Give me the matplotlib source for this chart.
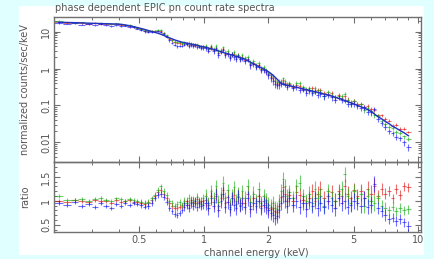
import numpy as np
import matplotlib.pyplot as plt
from matplotlib.patches import Rectangle
from matplotlib.ticker import FixedLocator, NullFormatter

# bin centres (keV), shared by the three phase spectra
energy = [0.21, 0.23, 0.25, 0.27, 0.29, 0.31, 0.33, 0.35, 0.37, 0.39, 0.41, 0.43, 0.45, 0.47, 0.49,
          0.51, 0.53, 0.55, 0.57, 0.59, 0.61, 0.63, 0.65, 0.67, 0.69, 0.71, 0.73, 0.75, 0.77, 0.79,
          0.81, 0.83, 0.85, 0.87, 0.89, 0.91, 0.93, 0.95, 0.97, 0.99,
          1.02, 1.05, 1.08, 1.11, 1.14, 1.17, 1.2, 1.23, 1.26, 1.29, 1.32, 1.35, 1.38, 1.41, 1.44, 1.47, 1.5,
          1.55, 1.6, 1.65, 1.7, 1.75, 1.8, 1.85, 1.9, 1.95, 2.0,
          2.05, 2.1, 2.15, 2.2, 2.25, 2.3, 2.35, 2.4, 2.45, 2.5, 2.6, 2.7, 2.8, 2.9, 3.0,
          3.1, 3.2, 3.3, 3.4, 3.5, 3.65, 3.8, 3.95, 4.1, 4.25, 4.4, 4.55, 4.7, 4.85, 5.0,
          5.2, 5.4, 5.6, 5.8, 6.0, 6.25, 6.5, 6.75, 7.0, 7.3, 7.6, 7.9, 8.2, 8.6, 9.0]

# folded model, counts/sec/keV
model = [18.0, 17.8, 17.5, 17.3, 17.0, 16.8, 16.6, 16.4, 16.3, 16.1, 15.8, 15.2, 14.5, 13.7, 12.9,
         12.2, 11.5, 10.8, 10.2, 9.6, 9.1, 8.5, 7.9, 7.3, 6.8, 6.4, 6.0, 5.7, 5.45, 5.2,
         5.05, 4.9, 4.75, 4.6, 4.5, 4.4, 4.25, 4.1, 4.0, 3.9,
         3.75, 3.6, 3.45, 3.3, 3.15, 3.0, 2.85, 2.72, 2.6, 2.5, 2.4, 2.32, 2.24, 2.15, 2.08, 2.0, 1.92,
         1.8, 1.62, 1.48, 1.36, 1.24, 1.13, 1.05, 0.97, 0.9, 0.82,
         0.74, 0.66, 0.58, 0.51, 0.44, 0.39, 0.37, 0.36, 0.35, 0.34, 0.325, 0.31, 0.295, 0.28, 0.27,
         0.255, 0.245, 0.235, 0.225, 0.215, 0.2, 0.19, 0.178, 0.167, 0.155, 0.145, 0.135, 0.125, 0.117, 0.11,
         0.1, 0.092, 0.084, 0.077, 0.07, 0.058, 0.049, 0.043, 0.037, 0.032, 0.027, 0.024, 0.021, 0.018, 0.015]

# data/model ratios for the three phases
ratio_red = [1.00, 0.98, 1.02, 1.00, 0.97, 1.01, 0.99, 1.00, 0.96, 1.02, 0.98, 0.99, 1.01, 0.97, 0.98,
             0.95, 0.93, 0.96, 1.02, 1.10, 1.18, 1.22, 1.15, 1.05, 0.95, 0.90, 0.85, 0.85, 0.88, 0.90,
             0.95, 1.00, 0.92, 1.02, 0.98, 0.95, 1.03, 0.97, 0.99, 1.00,
             1.02, 0.92, 1.10, 0.98, 1.15, 0.90, 1.05, 1.22, 0.96, 1.08, 0.88, 1.05, 1.12, 0.94, 1.10, 0.92, 1.06,
             0.96, 1.15, 0.90, 1.05, 0.95, 1.10, 0.90, 1.00, 0.96, 0.86,
             0.82, 0.85, 0.78, 0.76, 0.90, 1.08, 1.28, 1.15, 1.00, 1.12, 1.00, 1.18, 1.12, 1.02, 0.95,
             1.05, 1.20, 1.00, 1.15, 1.25, 1.05, 1.10, 1.18, 1.00, 1.20, 1.10, 1.30, 1.15, 1.05, 1.22,
             1.10, 1.20, 1.05, 1.25, 1.15, 1.30, 1.10, 1.25, 1.15, 1.20, 1.05, 1.25, 1.12, 1.30, 1.28]

ratio_green = [1.10, 1.02, 1.01, 1.03, 1.00, 1.04, 1.06, 1.02, 1.00, 1.05, 1.03, 1.00, 1.04, 1.02, 1.00,
               0.97, 0.95, 0.98, 1.05, 1.12, 1.22, 1.30, 1.20, 1.12, 1.00, 0.95, 0.90, 0.93, 0.97, 0.92,
               1.00, 0.95, 1.05, 0.98, 1.02, 0.96, 1.08, 1.00, 0.94, 1.06,
               1.10, 0.95, 1.20, 1.05, 1.30, 0.98, 1.15, 1.38, 1.05, 1.22, 0.92, 1.10, 1.28, 1.00, 1.15, 0.95, 1.20,
               1.05, 1.30, 0.98, 1.15, 1.00, 1.25, 0.95, 1.10, 1.02, 0.92,
               0.88, 0.95, 0.85, 0.82, 1.00, 1.20, 1.45, 1.30, 1.10, 1.18, 1.05, 1.30, 1.38, 1.10, 1.00,
               1.15, 0.95, 1.25, 1.05, 1.10, 0.90, 1.20, 1.05, 1.00, 1.15, 1.25, 1.55, 1.10, 0.95, 1.20,
               1.05, 1.15, 0.90, 1.10, 1.00, 0.95, 1.05, 0.90, 0.85, 0.80, 0.88, 0.78, 0.85, 0.80, 0.82]

ratio_blue = [0.95, 0.92, 0.97, 0.90, 0.93, 0.88, 0.95, 0.90, 0.85, 0.93, 0.90, 0.95, 0.92, 0.96, 0.93,
              0.92, 0.88, 0.90, 0.95, 1.05, 1.12, 1.15, 1.08, 0.98, 0.85, 0.78, 0.72, 0.70, 0.75, 0.80,
              0.88, 0.92, 0.85, 0.95, 0.90, 1.00, 0.88, 0.95, 0.90, 0.92,
              0.95, 0.85, 1.05, 0.90, 1.10, 0.80, 1.00, 1.15, 0.88, 0.98, 0.82, 1.05, 0.92, 0.85, 1.08, 0.90, 0.95,
              0.88, 1.05, 0.82, 0.95, 0.90, 1.00, 0.85, 0.92, 0.88, 0.80,
              0.75, 0.70, 0.65, 0.68, 0.80, 0.95, 1.10, 1.00, 0.90, 1.05, 0.92, 1.00, 0.88, 0.95, 0.82,
              0.98, 0.90, 1.05, 0.85, 0.95, 0.88, 1.00, 0.92, 0.85, 1.05, 0.95, 1.00, 0.88, 0.92, 1.00,
              0.95, 0.90, 1.05, 0.88, 0.92, 1.35, 0.85, 0.78, 0.70, 0.62, 0.65, 0.58, 0.62, 0.55, 0.48]

ratio_err = [0.04, 0.04, 0.04, 0.04, 0.04, 0.04, 0.04, 0.04, 0.04, 0.04, 0.04, 0.04, 0.04, 0.04, 0.04,
             0.06, 0.06, 0.06, 0.06, 0.06, 0.06, 0.06, 0.06, 0.06, 0.06, 0.06, 0.06, 0.06, 0.06, 0.06,
             0.09, 0.09, 0.09, 0.09, 0.09, 0.09, 0.09, 0.09, 0.09, 0.09,
             0.14, 0.14, 0.14, 0.14, 0.14, 0.14, 0.14, 0.14, 0.14, 0.14, 0.14, 0.14, 0.14, 0.14, 0.14, 0.14, 0.14,
             0.15, 0.15, 0.15, 0.15, 0.15, 0.15, 0.15, 0.15, 0.15, 0.15,
             0.15, 0.15, 0.15, 0.15, 0.15, 0.15, 0.15, 0.15, 0.15, 0.15, 0.15, 0.15, 0.15, 0.15, 0.15,
             0.16, 0.16, 0.16, 0.16, 0.16, 0.16, 0.16, 0.16, 0.16, 0.16, 0.16, 0.16, 0.16, 0.16, 0.16,
             0.15, 0.15, 0.16, 0.16, 0.17, 0.17, 0.12, 0.12, 0.12, 0.10, 0.10, 0.10, 0.10, 0.10, 0.10]

xtick_vals = [0.5, 1, 2, 5, 10]
xtick_labels = ["0.5", "1", "2", "5", "10"]

E = np.array(energy)
M = np.array(model)
err = np.array(ratio_err)
edges = np.sqrt(E[1:] * E[:-1])
lo = E - np.concatenate([[E[0] - (edges[0] - E[0])], edges])
hi = np.concatenate([edges, [E[-1] + (E[-1] - edges[-1])]]) - E
xerr = [lo, hi]

grey = "#707070"
txt = "#555555"

fig = plt.figure(figsize=(4.34, 2.59), dpi=100, facecolor="#e0ffff")
fig.patches.append(Rectangle((19 / 434, 1 - 255 / 259), 405 / 434, 249 / 259,
                             transform=fig.transFigure, facecolor="white",
                             edgecolor="none", zorder=-10))

ax1 = fig.add_axes([54 / 434, 1 - 161.5 / 259, 367 / 434, 144.5 / 259])
ax2 = fig.add_axes([54 / 434, 1 - 232 / 259, 367 / 434, 70.5 / 259], sharex=ax1)

series = [(ratio_red, "#e01010"), (ratio_green, "#10b010"), (ratio_blue, "#1010ff")]
for r, col in series:
    r = np.array(r)
    ax1.errorbar(E, M * r, yerr=M * err, xerr=xerr, fmt="none", ecolor=col,
                 elinewidth=0.8, alpha=0.6)
    ax2.errorbar(E, r, yerr=err, xerr=xerr, fmt="none", ecolor=col,
                 elinewidth=0.8, alpha=0.6)
ax1.plot(E, M, color="#2030c0", lw=1.0)

ax1.set_xscale("log")
ax1.set_yscale("log")
ax1.set_xlim(0.2, 10.3)
ax1.set_ylim(0.003, 25)
ax2.set_ylim(0.35, 1.82)

for ax in (ax1, ax2):
    ax.set_facecolor("none")
    for s in ax.spines.values():
        s.set_color(grey)
        s.set_linewidth(1.0)
    ax.tick_params(which="both", direction="in", top=True, right=True,
                   color=grey, labelcolor=txt, labelsize=7, pad=2)
    ax.tick_params(which="major", length=4.5, width=0.8)
    ax.tick_params(which="minor", length=2.2, width=0.7)
    ax.xaxis.set_major_locator(FixedLocator(xtick_vals))
    ax.xaxis.set_minor_locator(FixedLocator([0.2, 0.3, 0.4, 0.6, 0.7, 0.8, 0.9,
                                             3, 4, 6, 7, 8, 9]))
    ax.xaxis.set_minor_formatter(NullFormatter())

ax2.set_xticklabels(xtick_labels)
ax2.tick_params(axis="x", pad=2.5)
ax1.tick_params(axis="x", labelbottom=False)

ax1.set_yticks([0.01, 0.1, 1, 10])
ax1.set_yticklabels(["0.01", "0.1", "1", "10"], rotation=90, va="center")
ax1.yaxis.set_minor_locator(FixedLocator(
    [m * 10.0 ** d for d in range(-3, 2) for m in range(2, 10)]))
ax1.yaxis.set_minor_formatter(NullFormatter())

ax2.set_yticks([0.5, 1, 1.5])
ax2.set_yticklabels(["0.5", "1", "1.5"], rotation=90, va="center")
ax2.yaxis.set_minor_locator(FixedLocator([0.4, 0.6, 0.7, 0.8, 0.9, 1.1, 1.2, 1.3, 1.4, 1.6, 1.7, 1.8]))

fig.text(55 / 434, 1 - 8 / 259, "phase dependent EPIC pn count rate spectra",
         fontsize=7, color=txt, va="center", ha="left")
fig.text(25 / 434, 1 - 90 / 259, "normalized counts/sec/keV", rotation=90,
         fontsize=7, color=txt, va="center", ha="center")
fig.text(25 / 434, 1 - 197 / 259, "ratio", rotation=90,
         fontsize=7, color=txt, va="center", ha="center")
fig.text(256 / 434, 1 - 252.5 / 259, "channel energy (keV)",
         fontsize=7, color=txt, va="center", ha="center")

fig.savefig("out.png", dpi=100, facecolor=fig.get_facecolor())
